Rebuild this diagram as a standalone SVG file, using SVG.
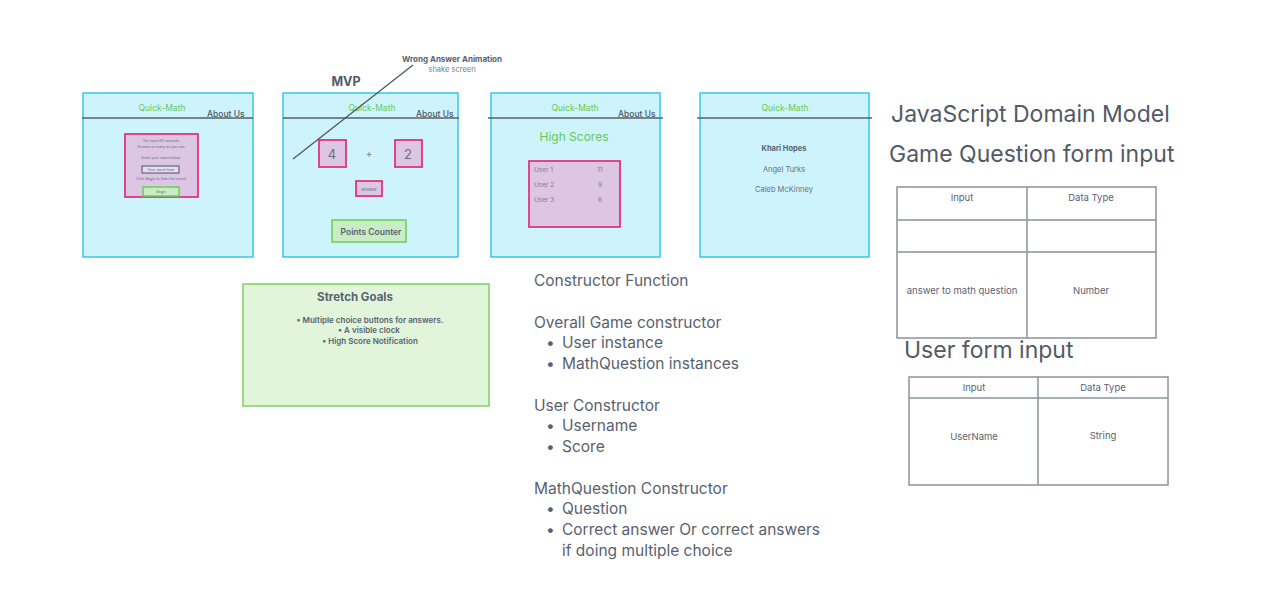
<svg xmlns="http://www.w3.org/2000/svg" width="1268" height="607" viewBox="0 0 1268 607">
<style>
text{font-family:Inter,"Liberation Sans",sans-serif;fill:#5a6270}
.panel{fill:#cdf3fc;stroke:#38c6e6;stroke-width:1.5}
.hdr{stroke:#56606d;stroke-width:1.5}
.qm{fill:#6cc94f;font-size:8.5px;text-anchor:middle}
.about{fill:#4e5663;font-size:8.5px;font-weight:500}
.pink{fill:#dcc6e4;stroke:#e2357b;stroke-width:1.8}
.tiny{font-size:3.6px;text-anchor:middle;fill:#6a6e80}
.grn{fill:#c8edc4;stroke:#6fcc55;stroke-width:1.5}
.tbl{fill:none;stroke:#8a93a0;stroke-width:1.5}
.th{font-size:9.5px;text-anchor:middle}
.big{font-size:23px;fill:#525a66}
.body{font-size:15.5px;fill:#596170}
.sg{font-size:8px;font-weight:600;text-anchor:middle;fill:#5a6270}
.mid{text-anchor:middle}
</style>

<g id="annotation-wrong-answer">
<text x="452" y="62" class="mid" style="font-size:8px;font-weight:700">Wrong Answer Animation</text>
<text x="452" y="72" class="mid" style="font-size:7.5px;fill:#7a808a">shake screen</text>
</g>

<g id="label-mvp">
<text x="346" y="86" class="mid" style="font-size:12.5px;font-weight:700;fill:#525a66">MVP</text>
</g>

<g id="panel-start">
<rect x="83" y="93" width="170" height="164" class="panel"/>
<line x1="82" y1="118" x2="253" y2="118" class="hdr"/>
<text x="162" y="111" class="qm">Quick-Math</text>
<text x="207" y="117" class="about">About Us</text>
<rect x="125" y="134" width="73" height="63" class="pink"/>
<text x="161" y="142" class="tiny">You have 60 seconds</text>
<text x="161" y="148" class="tiny">Answer as many as you can</text>
<text x="161" y="159" class="tiny">Enter your name below</text>
<rect x="142" y="166" width="37" height="7" fill="#e6dcef" stroke="#4e5066" stroke-width="1"/>
<text x="161" y="171" class="tiny">Your name here</text>
<text x="161" y="180" class="tiny">Click Begin to Start the round</text>
<rect x="143" y="187" width="36" height="9" class="grn" stroke-width="1"/>
<text x="161" y="193" class="tiny">Begin</text>
</g>

<g id="panel-game">
<rect x="283" y="93" width="175" height="164" class="panel"/>
<line x1="283" y1="118" x2="459" y2="118" class="hdr"/>
<text x="372" y="111" class="qm">Quick-Math</text>
<text x="416" y="117" class="about">About Us</text>
<rect x="319" y="140" width="27" height="27" class="pink"/>
<text x="332" y="159" class="mid" style="font-size:13px;fill:#6a6e7c">4</text>
<text x="369" y="157" class="mid" style="font-size:10px;fill:#7a7e8a">+</text>
<rect x="395" y="140" width="27" height="27" class="pink"/>
<text x="408" y="159" class="mid" style="font-size:13px;fill:#6a6e7c">2</text>
<rect x="356" y="181" width="26" height="15" class="pink" stroke-width="1.5"/>
<text x="369" y="191" class="mid" style="font-size:4.5px;fill:#6a6e80">answer</text>
<rect x="332" y="220" width="74" height="22" class="grn"/>
<text x="371" y="235" class="mid" style="font-size:8.5px;font-weight:600">Points Counter</text>
</g>

<g id="panel-highscores">
<rect x="491" y="93" width="169" height="164" class="panel"/>
<line x1="488" y1="118" x2="663" y2="118" class="hdr"/>
<text x="575" y="111" class="qm">Quick-Math</text>
<text x="618" y="117" class="about">About Us</text>
<text x="574" y="141" class="mid" style="font-size:12px;fill:#6cc94f">High Scores</text>
<rect x="529" y="161" width="91" height="66" class="pink"/>
<text x="534" y="172" style="font-size:6.5px;fill:#7a7e8c">User 1</text>
<text x="600" y="172" class="mid" style="font-size:6.5px;fill:#7a7e8c">11</text>
<text x="534" y="187" style="font-size:6.5px;fill:#7a7e8c">User 2</text>
<text x="600" y="187" class="mid" style="font-size:6.5px;fill:#7a7e8c">9</text>
<text x="534" y="202" style="font-size:6.5px;fill:#7a7e8c">User 3</text>
<text x="600" y="202" class="mid" style="font-size:6.5px;fill:#7a7e8c">6</text>
</g>

<g id="panel-about">
<rect x="700" y="93" width="169" height="164" class="panel"/>
<line x1="697" y1="118" x2="872" y2="118" class="hdr"/>
<text x="785" y="111" class="qm">Quick-Math</text>
<text x="784" y="151" class="mid" style="font-size:7.5px;font-weight:700">Khari Hopes</text>
<text x="784" y="172" class="mid" style="font-size:7.5px;fill:#6a707c">Angel Turks</text>
<text x="784" y="192" class="mid" style="font-size:7.5px;fill:#6a707c">Caleb McKinney</text>
</g>

<g id="stretch-goals">
<rect x="243" y="284" width="246" height="122" fill="#e0f5d9" stroke="#7fd063" stroke-width="1.5"/>
<text x="355" y="301" class="mid" style="font-size:11.5px;font-weight:700">Stretch Goals</text>
<text x="370" y="323" class="sg">• Multiple choice buttons for answers.</text>
<text x="369" y="333" class="sg">• A visible clock</text>
<text x="370" y="344" class="sg">• High Score Notification</text>
</g>

<g id="constructor-notes">
<text x="534" y="286" class="body">Constructor Function</text>
<text x="534" y="328" class="body">Overall Game constructor</text>
<text x="546" y="348" class="body">•</text>
<text x="562" y="348" class="body">User instance</text>
<text x="546" y="369" class="body">•</text>
<text x="562" y="369" class="body">MathQuestion instances</text>
<text x="534" y="411" class="body">User Constructor</text>
<text x="546" y="431" class="body">•</text>
<text x="562" y="431" class="body">Username</text>
<text x="546" y="452" class="body">•</text>
<text x="562" y="452" class="body">Score</text>
<text x="534" y="494" class="body">MathQuestion Constructor</text>
<text x="546" y="514" class="body">•</text>
<text x="562" y="514" class="body">Question</text>
<text x="546" y="535" class="body">•</text>
<text x="562" y="535" class="body">Correct answer Or correct answers</text>
<text x="562" y="556" class="body">if doing multiple choice</text>
</g>

<g id="domain-model-title">
<text x="891" y="122" class="big">JavaScript Domain Model</text>
<text x="889" y="162" class="big">Game Question form input</text>
</g>

<g id="table-game-question">
<rect x="897" y="187" width="259" height="151" class="tbl"/>
<line x1="897" y1="220" x2="1156" y2="220" class="tbl"/>
<line x1="897" y1="252" x2="1156" y2="252" class="tbl"/>
<line x1="1027" y1="187" x2="1027" y2="338" class="tbl"/>
<text x="962" y="201" class="th">Input</text>
<text x="1091" y="201" class="th">Data Type</text>
<text x="962" y="294" class="th">answer to math question</text>
<text x="1091" y="294" class="th">Number</text>
</g>

<g id="user-form-title">
<text x="904" y="358" class="big">User form input</text>
</g>

<g id="table-user-form">
<rect x="909" y="377" width="259" height="108" class="tbl"/>
<line x1="909" y1="398" x2="1168" y2="398" class="tbl"/>
<line x1="1038" y1="377" x2="1038" y2="485" class="tbl"/>
<text x="974" y="391" class="th">Input</text>
<text x="1103" y="391" class="th">Data Type</text>
<text x="974" y="440" class="th">UserName</text>
<text x="1103" y="439" class="th">String</text>
</g>

<g id="connectors">
<line x1="293" y1="159" x2="413" y2="65" stroke="#4a525e" stroke-width="1.2"/>
</g>
</svg>
